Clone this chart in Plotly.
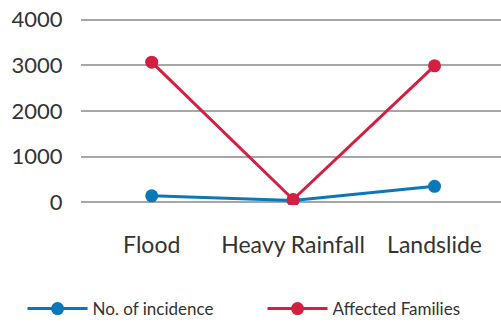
import plotly.graph_objects as go

categories = ["Flood", "Heavy Rainfall", "Landslide"]
incidence = [140, 40, 350]
affected_families = [3070, 60, 2990]
y_ticks = [0, 1000, 2000, 3000, 4000]

BLUE = "#0A77B8"
RED = "#D41F42"
FONT = "Lato, 'Open Sans', sans-serif"

fig = go.Figure()
fig.add_trace(go.Scatter(
    x=categories, y=incidence, name="No. of incidence", mode="lines+markers",
    line=dict(color=BLUE, width=3), marker=dict(color=BLUE, size=13),
    legend="legend",
))
fig.add_trace(go.Scatter(
    x=categories, y=affected_families, name="Affected Families", mode="lines+markers",
    line=dict(color=RED, width=3), marker=dict(color=RED, size=13),
    legend="legend2",
))

legend_common = dict(
    orientation="h", xanchor="left", xref="container",
    y=0.0, yanchor="bottom", yref="container",
    font=dict(size=17, color="#333333"), itemwidth=60,
)

fig.update_layout(
    width=501, height=327,
    margin=dict(l=81, r=0, t=17, b=122),
    plot_bgcolor="white", paper_bgcolor="white",
    font=dict(family=FONT, color="#333333"),
    showlegend=True,
    legend=dict(x=0.045, **legend_common),
    legend2=dict(x=0.524, **legend_common),
)
fig.update_xaxes(
    type="category", range=[-0.5, 2.47], showgrid=False, showline=False,
    zeroline=False, tickfont=dict(size=23), ticks="outside", ticklen=19,
    tickcolor="rgba(0,0,0,0)", automargin=False,
)
fig.update_yaxes(
    range=[-60, 4060], tickvals=y_ticks, showgrid=True, gridcolor="#A6A6A6",
    gridwidth=2, zeroline=False, showline=False, tickfont=dict(size=22),
    ticks="outside", ticklen=13, tickcolor="rgba(0,0,0,0)", automargin=False,
)

fig.write_html(
    "out.html",
    config={"displayModeBar": False},
    post_script="document.body.style.margin='0';",
)
